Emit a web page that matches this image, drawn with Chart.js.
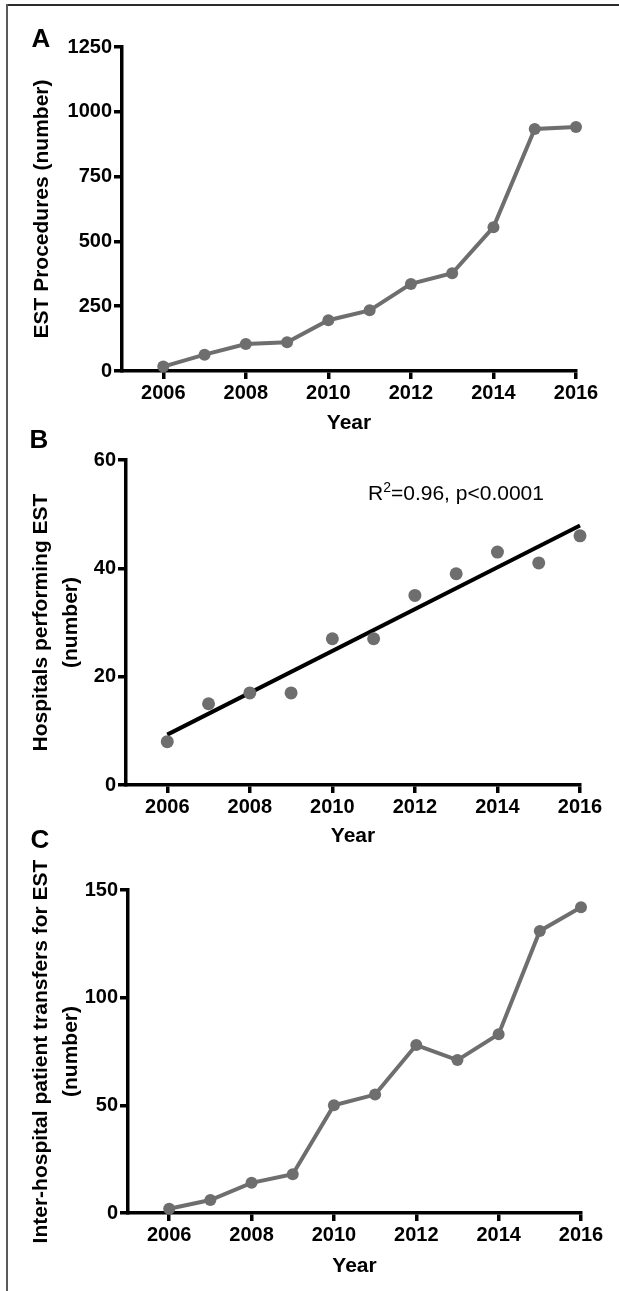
<!DOCTYPE html>
<html>
<head>
<meta charset="utf-8">
<script src="https://cdn.jsdelivr.net/npm/chart.js@4.4.0/dist/chart.umd.min.js"></script>
<style>
  html, body { margin: 0; padding: 0; background: #fff; }
  body { width: 619px; height: 1291px; position: relative; overflow: hidden; font-family: "Liberation Sans", Arial, sans-serif; }
  canvas { position: absolute; left: 0; }
  .frame-top { position: absolute; left: 6px; top: 4px; width: 613px; height: 2px; background: #2b2b2b; }
  .frame-left { position: absolute; left: 6px; top: 4px; width: 2px; height: 1287px; background: #5a5a5a; }
  .letter { position: absolute; font-weight: bold; font-size: 26px; line-height: 26px; transform: translate(-50%, -50%); color: #000; }
  .note { position: absolute; font-size: 21px; line-height: 24px; color: #000; white-space: nowrap; }
  .note sup { font-size: 14px; line-height: 0; vertical-align: 0; position: relative; top: -8px; }
</style>
</head>
<body>
<div class="frame-top"></div>
<div class="frame-left"></div>
<canvas id="chartA" width="619" height="440" style="top:0px"></canvas>
<canvas id="chartB" width="619" height="440" style="top:420px"></canvas>
<canvas id="chartC" width="619" height="441" style="top:850px"></canvas>
<div class="letter" style="left:41px;top:38px">A</div>
<div class="letter" style="left:39px;top:439px">B</div>
<div class="letter" style="left:40px;top:839px">C</div>
<div class="note" style="left:368px;top:481px">R<sup>2</sup>=0.96, p&lt;0.0001</div>
<script>
// ---- data ----
const years = [2006, 2007, 2008, 2009, 2010, 2011, 2012, 2013, 2014, 2015, 2016];
const estProcedures = [17, 63, 104, 111, 196, 234, 336, 377, 555, 934, 941];
const hospitalsPerforming = [8, 15, 17, 17, 27, 27, 35, 39, 43, 41, 46];
const fitYears = [2006, 2016];
const fitValues = [9.3, 47.9];
const transfers = [2, 6, 14, 18, 50, 55, 78, 71, 83, 131, 142];
const xTickValues = [2006, 2008, 2010, 2012, 2014, 2016];
const yTicksA = [0, 250, 500, 750, 1000, 1250];
const yTicksB = [0, 20, 40, 60];
const yTicksC = [0, 50, 100, 150];
const xTitle = 'Year';
const yTitleA = 'EST Procedures (number)';
const yTitleB = ['Hospitals performing EST', '(number)'];
const yTitleC = ['Inter-hospital patient transfers for EST', '(number)'];

const FAMILY = '"Liberation Sans", Arial, Helvetica, sans-serif';
const GRAY = '#6e6e6e';

function pts(xs, ys) { return xs.map((x, i) => ({ x: x, y: ys[i] })); }

function makePanel(id, datasets, p) {
  return new Chart(document.getElementById(id), {
    type: 'scatter',
    data: { datasets: datasets },
    options: {
      responsive: false,
      animation: false,
      devicePixelRatio: 1,
      layout: { padding: { left: 0, top: p.top, right: p.right, bottom: p.bottom } },
      plugins: { legend: { display: false }, tooltip: { enabled: false } },
      scales: {
        x: {
          type: 'linear', min: 2005, max: 2016,
          afterBuildTicks: s => { s.ticks = xTickValues.map(v => ({ value: v })); },
          afterFit: s => { s.height = p.xH; },
          grid: { display: true, drawOnChartArea: false, drawTicks: true, tickLength: 8, tickWidth: 3.5, tickColor: '#000', color: '#000', lineWidth: 3.5 },
          border: { display: true, color: '#000', width: 3.5 },
          ticks: { font: { family: FAMILY, size: 20, weight: 'bold' }, color: '#000', padding: 2, maxRotation: 0, autoSkip: false, callback: v => String(v) },
          title: { display: true, text: xTitle, font: { family: FAMILY, size: 21, weight: 'bold', lineHeight: 1.2 }, color: '#000', padding: 0 }
        },
        y: {
          type: 'linear', min: 0, max: p.yMax,
          afterBuildTicks: s => { s.ticks = p.yTicks.map(v => ({ value: v })); },
          afterFit: s => { s.width = p.yW; },
          grid: { display: true, drawOnChartArea: false, drawTicks: true, tickLength: 8, tickWidth: 3.5, tickColor: '#000', color: '#000', lineWidth: 3.5 },
          border: { display: true, color: '#000', width: 3.5 },
          ticks: { font: { family: FAMILY, size: 20, weight: 'bold' }, color: '#000', padding: 2, callback: v => String(v) },
          title: { display: true, text: p.yTitle, font: { family: FAMILY, size: 21, weight: 'bold', lineHeight: p.lh }, color: '#000', padding: { top: p.tPad, bottom: 0 } }
        }
      }
    }
  });
}

function lineSet(values) {
  return {
    data: pts(years, values), showLine: true, tension: 0, clip: false,
    borderColor: GRAY, borderWidth: 4,
    pointRadius: 6, pointBackgroundColor: GRAY, pointBorderWidth: 0, pointHoverRadius: 6
  };
}

makePanel('chartA', [lineSet(estProcedures)], {
  top: 47, right: 43, bottom: 4, xH: 65, yW: 122, yMax: 1250, yTicks: yTicksA,
  yTitle: yTitleA, lh: 1.2, tPad: 30
});

makePanel('chartB', [
  { data: pts(years, hospitalsPerforming), showLine: false, clip: false,
    pointRadius: 6.5, pointBackgroundColor: GRAY, pointBorderWidth: 0, pointHoverRadius: 6.5 },
  { data: pts(fitYears, fitValues), showLine: true, clip: false,
    borderColor: '#000', borderWidth: 4, pointRadius: 0, pointHoverRadius: 0 }
], {
  top: 40, right: 39, bottom: 11, xH: 64, yW: 126, yMax: 60, yTicks: yTicksB,
  yTitle: yTitleB, lh: 1.45, tPad: 26
});

makePanel('chartC', [lineSet(transfers)], {
  top: 40, right: 38, bottom: 12, xH: 66, yW: 128, yMax: 150, yTicks: yTicksC,
  yTitle: yTitleC, lh: 1.45, tPad: 26
});
</script>
</body>
</html>
